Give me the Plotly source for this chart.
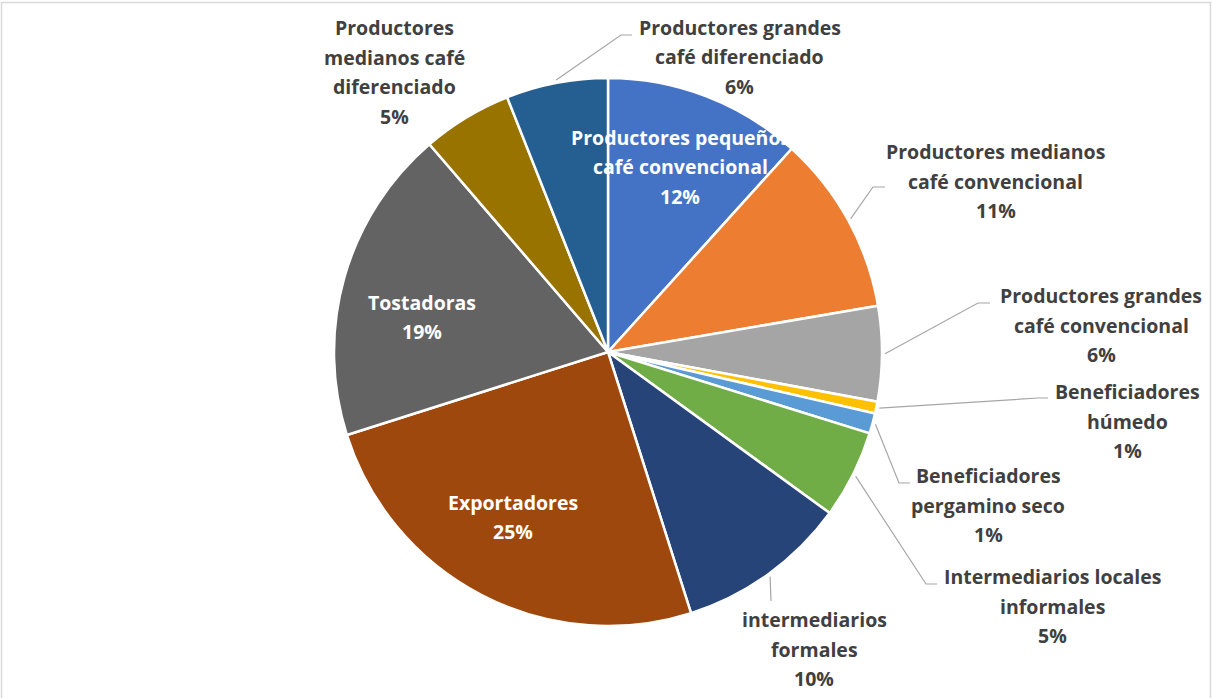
import math
import textwrap
import plotly.graph_objects as go

# Share of each actor in the coffee chain (percent), clockwise from 12 o'clock
categories = [
    "Productores pequeños café convencional",
    "Productores medianos café convencional",
    "Productores grandes café convencional",
    "Beneficiadores húmedo",
    "Beneficiadores pergamino seco",
    "Intermediarios locales informales",
    "intermediarios formales",
    "Exportadores",
    "Tostadoras",
    "Productores medianos café diferenciado",
    "Productores grandes café diferenciado",
]
shares = [11.7, 10.6, 5.6, 0.7, 1.2, 5.2, 10.1, 25.0, 18.6, 5.3, 6.0]
colors = [
    "#4472C4", "#ED7D31", "#A5A5A5", "#FFC000", "#5B9BD5", "#70AD47",
    "#264478", "#9E480E", "#636363", "#997300", "#255E91",
]

# Label layout: (wrap width, block centre x, block centre y, inside?, leader elbow, leader end) in px
label_layout = [
    (20, 680, 167, True, None, None),
    (20, 996, 181, False, (873, 187), (885, 187)),
    (19, 1101, 325, False, (978, 303), (990, 303)),
    (14, 1127, 421, False, (1038, 398), (1048, 398)),
    (16, 988, 505, False, (899, 483), (910, 483)),
    (22, 1052, 606, False, (926, 584), (937, 584)),
    (14, 814, 649, False, (771, 601), (771, 601)),
    (20, 513, 517, True, None, None),
    (20, 422, 317, True, None, None),
    (14, 394, 72, False, None, None),
    (19, 740, 57, False, (621, 35), (632, 35)),
]

W, H = 1212, 698
CX, CY, R = 608, 352, 274
LINE_H = 29.5


def px(x):
    return x / W


def py(y):
    return 1 - y / H


fig = go.Figure(
    go.Pie(
        labels=categories,
        values=shares,
        sort=False,
        direction="clockwise",
        rotation=0,
        marker=dict(colors=colors, line=dict(color="white", width=2.5)),
        textinfo="none",
        textposition="none",
        showlegend=False,
        domain=dict(x=[px(CX - R), px(CX + R)], y=[py(CY + R), py(CY - R)]),
    )
)

total = sum(shares)
annotations = []
shapes = []
cum = 0.0
for name, val, lay in zip(categories, shares, label_layout):
    width, bx, by, inside, elbow, end = lay
    mid = (cum + val / 2) / total * 2 * math.pi
    cum += val
    pct = f"{round(val / total * 100)}%"
    lines = textwrap.wrap(name, width) + [pct]
    n = len(lines)
    color = "white" if inside else "#404040"
    for i, line in enumerate(lines):
        ly = by + (i - (n - 1) / 2) * LINE_H
        annotations.append(
            dict(
                x=px(bx), y=py(ly), xref="paper", yref="paper",
                text=line, showarrow=False, xanchor="center", yanchor="middle",
                font=dict(family="Open Sans", size=19.5, color=color, weight="bold"),
            )
        )
    if elbow is not None:
        sx = CX + 277 * math.sin(mid)
        sy = CY - 277 * math.cos(mid)
        path = f"M {px(sx)} {py(sy)} L {px(elbow[0])} {py(elbow[1])} L {px(end[0])} {py(end[1])}"
        shapes.append(
            dict(type="path", xref="paper", yref="paper", path=path,
                 line=dict(color="#A6A6A6", width=1.2))
        )

# chart area frame
shapes.append(
    dict(type="rect", xref="paper", yref="paper",
         x0=px(1.5), x1=px(1210.5), y0=py(705), y1=py(2.5),
         line=dict(color="#D9D9D9", width=1.5), fillcolor="rgba(0,0,0,0)")
)

fig.update_layout(
    width=W, height=H,
    margin=dict(l=0, r=0, t=0, b=0),
    paper_bgcolor="white",
    plot_bgcolor="white",
    annotations=annotations,
    shapes=shapes,
)

fig.write_html("out.html")
